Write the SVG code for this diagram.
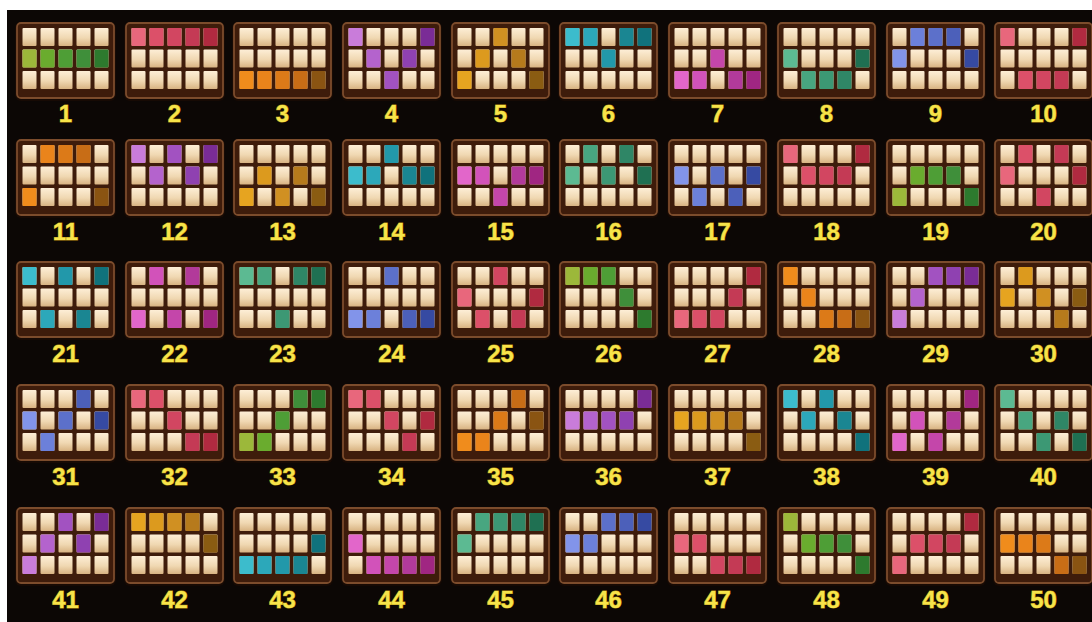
<svg xmlns="http://www.w3.org/2000/svg" width="1092" height="622" viewBox="0 0 1092 622">
<style>
.pb{fill:#3e1c0b;stroke:#7c4c2c;stroke-width:1.8}
.cr{fill:url(#cream)}
.lb{font-family:"Liberation Sans",Arial,sans-serif;font-weight:bold;font-size:24px;fill:#f7e44a;text-anchor:middle;stroke:#b08a12;stroke-width:1;paint-order:stroke}
.gr0{fill:#9cb83a}.gr1{fill:#6aac2e}.gr2{fill:#4e9e36}.gr3{fill:#3f8f3a}.gr4{fill:#2d7a2e}
.r0{fill:#e8677c}.r1{fill:#dc5069}.r2{fill:#d24661}.r3{fill:#c43a55}.r4{fill:#b02a40}
.o0{fill:#f08c1c}.o1{fill:#ea841b}.o2{fill:#dc7a18}.o3{fill:#c86d16}.o4{fill:#8a5412}
.p0{fill:#c97cda}.p1{fill:#b463cd}.p2{fill:#a252c1}.p3{fill:#8f41b1}.p4{fill:#7a2c96}
.a0{fill:#e6a420}.a1{fill:#dc9a1e}.a2{fill:#d09022}.a3{fill:#b67a1c}.a4{fill:#8a5c12}
.t0{fill:#3cbccc}.t1{fill:#2ca8ba}.t2{fill:#2298aa}.t3{fill:#1a8692}.t4{fill:#10727c}
.m0{fill:#e266ca}.m1{fill:#d252ba}.m2{fill:#c446aa}.m3{fill:#b23a9a}.m4{fill:#a02682}
.s0{fill:#5cba92}.s1{fill:#48a680}.s2{fill:#3c9874}.s3{fill:#2f8666}.s4{fill:#1f7052}
.b0{fill:#8294ea}.b1{fill:#6c80da}.b2{fill:#5c70ca}.b3{fill:#4c60ba}.b4{fill:#364aa2}
</style>
<defs>
<linearGradient id="cream" x1="0" y1="0" x2="0" y2="1">
<stop offset="0" stop-color="#fdeed6"/>
<stop offset="0.55" stop-color="#f0d8b2"/>
<stop offset="1" stop-color="#d8b382"/>
</linearGradient>
<rect id="k" width="14" height="18" rx="1"/>
<g id="pnl">
<rect x="-2" y="-1" width="101" height="79" rx="6" fill="#1c0b04" opacity="0.7"/>
<rect x="0" y="0" width="97" height="75" rx="4" class="pb"/>
<use href="#k" class="cr" x="5.5" y="5"/><use href="#k" class="cr" x="23.5" y="5"/><use href="#k" class="cr" x="41.5" y="5"/><use href="#k" class="cr" x="59.5" y="5"/><use href="#k" class="cr" x="77.5" y="5"/>
<use href="#k" class="cr" x="5.5" y="26.5"/><use href="#k" class="cr" x="23.5" y="26.5"/><use href="#k" class="cr" x="41.5" y="26.5"/><use href="#k" class="cr" x="59.5" y="26.5"/><use href="#k" class="cr" x="77.5" y="26.5"/>
<use href="#k" class="cr" x="5.5" y="48"/><use href="#k" class="cr" x="23.5" y="48"/><use href="#k" class="cr" x="41.5" y="48"/><use href="#k" class="cr" x="59.5" y="48"/><use href="#k" class="cr" x="77.5" y="48"/>
</g>
</defs>
<rect x="0" y="0" width="1092" height="622" fill="#ffffff"/>
<rect x="7" y="10" width="1085" height="612" fill="#0c0705"/>
<g id="connectors"/>

<g id="line-1" transform="translate(17,23)"><use href="#pnl"/><use href="#k" class="gr0" x="5.5" y="26.5"/><use href="#k" class="gr1" x="23.5" y="26.5"/><use href="#k" class="gr2" x="41.5" y="26.5"/><use href="#k" class="gr3" x="59.5" y="26.5"/><use href="#k" class="gr4" x="77.5" y="26.5"/><text class="lb" x="48.5" y="99">1</text></g>
<g id="line-2" transform="translate(126,23)"><use href="#pnl"/><use href="#k" class="r0" x="5.5" y="5"/><use href="#k" class="r1" x="23.5" y="5"/><use href="#k" class="r2" x="41.5" y="5"/><use href="#k" class="r3" x="59.5" y="5"/><use href="#k" class="r4" x="77.5" y="5"/><text class="lb" x="48.5" y="99">2</text></g>
<g id="line-3" transform="translate(234,23)"><use href="#pnl"/><use href="#k" class="o0" x="5.5" y="48"/><use href="#k" class="o1" x="23.5" y="48"/><use href="#k" class="o2" x="41.5" y="48"/><use href="#k" class="o3" x="59.5" y="48"/><use href="#k" class="o4" x="77.5" y="48"/><text class="lb" x="48.5" y="99">3</text></g>
<g id="line-4" transform="translate(343,23)"><use href="#pnl"/><use href="#k" class="p0" x="5.5" y="5"/><use href="#k" class="p1" x="23.5" y="26.5"/><use href="#k" class="p2" x="41.5" y="48"/><use href="#k" class="p3" x="59.5" y="26.5"/><use href="#k" class="p4" x="77.5" y="5"/><text class="lb" x="48.5" y="99">4</text></g>
<g id="line-5" transform="translate(452,23)"><use href="#pnl"/><use href="#k" class="a0" x="5.5" y="48"/><use href="#k" class="a1" x="23.5" y="26.5"/><use href="#k" class="a2" x="41.5" y="5"/><use href="#k" class="a3" x="59.5" y="26.5"/><use href="#k" class="a4" x="77.5" y="48"/><text class="lb" x="48.5" y="99">5</text></g>
<g id="line-6" transform="translate(560,23)"><use href="#pnl"/><use href="#k" class="t0" x="5.5" y="5"/><use href="#k" class="t1" x="23.5" y="5"/><use href="#k" class="t2" x="41.5" y="26.5"/><use href="#k" class="t3" x="59.5" y="5"/><use href="#k" class="t4" x="77.5" y="5"/><text class="lb" x="48.5" y="99">6</text></g>
<g id="line-7" transform="translate(669,23)"><use href="#pnl"/><use href="#k" class="m0" x="5.5" y="48"/><use href="#k" class="m1" x="23.5" y="48"/><use href="#k" class="m2" x="41.5" y="26.5"/><use href="#k" class="m3" x="59.5" y="48"/><use href="#k" class="m4" x="77.5" y="48"/><text class="lb" x="48.5" y="99">7</text></g>
<g id="line-8" transform="translate(778,23)"><use href="#pnl"/><use href="#k" class="s0" x="5.5" y="26.5"/><use href="#k" class="s1" x="23.5" y="48"/><use href="#k" class="s2" x="41.5" y="48"/><use href="#k" class="s3" x="59.5" y="48"/><use href="#k" class="s4" x="77.5" y="26.5"/><text class="lb" x="48.5" y="99">8</text></g>
<g id="line-9" transform="translate(887,23)"><use href="#pnl"/><use href="#k" class="b0" x="5.5" y="26.5"/><use href="#k" class="b1" x="23.5" y="5"/><use href="#k" class="b2" x="41.5" y="5"/><use href="#k" class="b3" x="59.5" y="5"/><use href="#k" class="b4" x="77.5" y="26.5"/><text class="lb" x="48.5" y="99">9</text></g>
<g id="line-10" transform="translate(995,23)"><use href="#pnl"/><use href="#k" class="r0" x="5.5" y="5"/><use href="#k" class="r1" x="23.5" y="48"/><use href="#k" class="r2" x="41.5" y="48"/><use href="#k" class="r3" x="59.5" y="48"/><use href="#k" class="r4" x="77.5" y="5"/><text class="lb" x="48.5" y="99">10</text></g>

<g id="line-11" transform="translate(17,140)"><use href="#pnl"/><use href="#k" class="o0" x="5.5" y="48"/><use href="#k" class="o1" x="23.5" y="5"/><use href="#k" class="o2" x="41.5" y="5"/><use href="#k" class="o3" x="59.5" y="5"/><use href="#k" class="o4" x="77.5" y="48"/><text class="lb" x="48.5" y="100">11</text></g>
<g id="line-12" transform="translate(126,140)"><use href="#pnl"/><use href="#k" class="p0" x="5.5" y="5"/><use href="#k" class="p1" x="23.5" y="26.5"/><use href="#k" class="p2" x="41.5" y="5"/><use href="#k" class="p3" x="59.5" y="26.5"/><use href="#k" class="p4" x="77.5" y="5"/><text class="lb" x="48.5" y="100">12</text></g>
<g id="line-13" transform="translate(234,140)"><use href="#pnl"/><use href="#k" class="a0" x="5.5" y="48"/><use href="#k" class="a1" x="23.5" y="26.5"/><use href="#k" class="a2" x="41.5" y="48"/><use href="#k" class="a3" x="59.5" y="26.5"/><use href="#k" class="a4" x="77.5" y="48"/><text class="lb" x="48.5" y="100">13</text></g>
<g id="line-14" transform="translate(343,140)"><use href="#pnl"/><use href="#k" class="t0" x="5.5" y="26.5"/><use href="#k" class="t1" x="23.5" y="26.5"/><use href="#k" class="t2" x="41.5" y="5"/><use href="#k" class="t3" x="59.5" y="26.5"/><use href="#k" class="t4" x="77.5" y="26.5"/><text class="lb" x="48.5" y="100">14</text></g>
<g id="line-15" transform="translate(452,140)"><use href="#pnl"/><use href="#k" class="m0" x="5.5" y="26.5"/><use href="#k" class="m1" x="23.5" y="26.5"/><use href="#k" class="m2" x="41.5" y="48"/><use href="#k" class="m3" x="59.5" y="26.5"/><use href="#k" class="m4" x="77.5" y="26.5"/><text class="lb" x="48.5" y="100">15</text></g>
<g id="line-16" transform="translate(560,140)"><use href="#pnl"/><use href="#k" class="s0" x="5.5" y="26.5"/><use href="#k" class="s1" x="23.5" y="5"/><use href="#k" class="s2" x="41.5" y="26.5"/><use href="#k" class="s3" x="59.5" y="5"/><use href="#k" class="s4" x="77.5" y="26.5"/><text class="lb" x="48.5" y="100">16</text></g>
<g id="line-17" transform="translate(669,140)"><use href="#pnl"/><use href="#k" class="b0" x="5.5" y="26.5"/><use href="#k" class="b1" x="23.5" y="48"/><use href="#k" class="b2" x="41.5" y="26.5"/><use href="#k" class="b3" x="59.5" y="48"/><use href="#k" class="b4" x="77.5" y="26.5"/><text class="lb" x="48.5" y="100">17</text></g>
<g id="line-18" transform="translate(778,140)"><use href="#pnl"/><use href="#k" class="r0" x="5.5" y="5"/><use href="#k" class="r1" x="23.5" y="26.5"/><use href="#k" class="r2" x="41.5" y="26.5"/><use href="#k" class="r3" x="59.5" y="26.5"/><use href="#k" class="r4" x="77.5" y="5"/><text class="lb" x="48.5" y="100">18</text></g>
<g id="line-19" transform="translate(887,140)"><use href="#pnl"/><use href="#k" class="gr0" x="5.5" y="48"/><use href="#k" class="gr1" x="23.5" y="26.5"/><use href="#k" class="gr2" x="41.5" y="26.5"/><use href="#k" class="gr3" x="59.5" y="26.5"/><use href="#k" class="gr4" x="77.5" y="48"/><text class="lb" x="48.5" y="100">19</text></g>
<g id="line-20" transform="translate(995,140)"><use href="#pnl"/><use href="#k" class="r0" x="5.5" y="26.5"/><use href="#k" class="r1" x="23.5" y="5"/><use href="#k" class="r2" x="41.5" y="48"/><use href="#k" class="r3" x="59.5" y="5"/><use href="#k" class="r4" x="77.5" y="26.5"/><text class="lb" x="48.5" y="100">20</text></g>

<g id="line-21" transform="translate(17,262)"><use href="#pnl"/><use href="#k" class="t0" x="5.5" y="5"/><use href="#k" class="t1" x="23.5" y="48"/><use href="#k" class="t2" x="41.5" y="5"/><use href="#k" class="t3" x="59.5" y="48"/><use href="#k" class="t4" x="77.5" y="5"/><text class="lb" x="48.5" y="100">21</text></g>
<g id="line-22" transform="translate(126,262)"><use href="#pnl"/><use href="#k" class="m0" x="5.5" y="48"/><use href="#k" class="m1" x="23.5" y="5"/><use href="#k" class="m2" x="41.5" y="48"/><use href="#k" class="m3" x="59.5" y="5"/><use href="#k" class="m4" x="77.5" y="48"/><text class="lb" x="48.5" y="100">22</text></g>
<g id="line-23" transform="translate(234,262)"><use href="#pnl"/><use href="#k" class="s0" x="5.5" y="5"/><use href="#k" class="s1" x="23.5" y="5"/><use href="#k" class="s2" x="41.5" y="48"/><use href="#k" class="s3" x="59.5" y="5"/><use href="#k" class="s4" x="77.5" y="5"/><text class="lb" x="48.5" y="100">23</text></g>
<g id="line-24" transform="translate(343,262)"><use href="#pnl"/><use href="#k" class="b0" x="5.5" y="48"/><use href="#k" class="b1" x="23.5" y="48"/><use href="#k" class="b2" x="41.5" y="5"/><use href="#k" class="b3" x="59.5" y="48"/><use href="#k" class="b4" x="77.5" y="48"/><text class="lb" x="48.5" y="100">24</text></g>
<g id="line-25" transform="translate(452,262)"><use href="#pnl"/><use href="#k" class="r0" x="5.5" y="26.5"/><use href="#k" class="r1" x="23.5" y="48"/><use href="#k" class="r2" x="41.5" y="5"/><use href="#k" class="r3" x="59.5" y="48"/><use href="#k" class="r4" x="77.5" y="26.5"/><text class="lb" x="48.5" y="100">25</text></g>
<g id="line-26" transform="translate(560,262)"><use href="#pnl"/><use href="#k" class="gr0" x="5.5" y="5"/><use href="#k" class="gr1" x="23.5" y="5"/><use href="#k" class="gr2" x="41.5" y="5"/><use href="#k" class="gr3" x="59.5" y="26.5"/><use href="#k" class="gr4" x="77.5" y="48"/><text class="lb" x="48.5" y="100">26</text></g>
<g id="line-27" transform="translate(669,262)"><use href="#pnl"/><use href="#k" class="r0" x="5.5" y="48"/><use href="#k" class="r1" x="23.5" y="48"/><use href="#k" class="r2" x="41.5" y="48"/><use href="#k" class="r3" x="59.5" y="26.5"/><use href="#k" class="r4" x="77.5" y="5"/><text class="lb" x="48.5" y="100">27</text></g>
<g id="line-28" transform="translate(778,262)"><use href="#pnl"/><use href="#k" class="o0" x="5.5" y="5"/><use href="#k" class="o1" x="23.5" y="26.5"/><use href="#k" class="o2" x="41.5" y="48"/><use href="#k" class="o3" x="59.5" y="48"/><use href="#k" class="o4" x="77.5" y="48"/><text class="lb" x="48.5" y="100">28</text></g>
<g id="line-29" transform="translate(887,262)"><use href="#pnl"/><use href="#k" class="p0" x="5.5" y="48"/><use href="#k" class="p1" x="23.5" y="26.5"/><use href="#k" class="p2" x="41.5" y="5"/><use href="#k" class="p3" x="59.5" y="5"/><use href="#k" class="p4" x="77.5" y="5"/><text class="lb" x="48.5" y="100">29</text></g>
<g id="line-30" transform="translate(995,262)"><use href="#pnl"/><use href="#k" class="a0" x="5.5" y="26.5"/><use href="#k" class="a1" x="23.5" y="5"/><use href="#k" class="a2" x="41.5" y="26.5"/><use href="#k" class="a3" x="59.5" y="48"/><use href="#k" class="a4" x="77.5" y="26.5"/><text class="lb" x="48.5" y="100">30</text></g>

<g id="line-31" transform="translate(17,385)"><use href="#pnl"/><use href="#k" class="b0" x="5.5" y="26.5"/><use href="#k" class="b1" x="23.5" y="48"/><use href="#k" class="b2" x="41.5" y="26.5"/><use href="#k" class="b3" x="59.5" y="5"/><use href="#k" class="b4" x="77.5" y="26.5"/><text class="lb" x="48.5" y="100">31</text></g>
<g id="line-32" transform="translate(126,385)"><use href="#pnl"/><use href="#k" class="r0" x="5.5" y="5"/><use href="#k" class="r1" x="23.5" y="5"/><use href="#k" class="r2" x="41.5" y="26.5"/><use href="#k" class="r3" x="59.5" y="48"/><use href="#k" class="r4" x="77.5" y="48"/><text class="lb" x="48.5" y="100">32</text></g>
<g id="line-33" transform="translate(234,385)"><use href="#pnl"/><use href="#k" class="gr0" x="5.5" y="48"/><use href="#k" class="gr1" x="23.5" y="48"/><use href="#k" class="gr2" x="41.5" y="26.5"/><use href="#k" class="gr3" x="59.5" y="5"/><use href="#k" class="gr4" x="77.5" y="5"/><text class="lb" x="48.5" y="100">33</text></g>
<g id="line-34" transform="translate(343,385)"><use href="#pnl"/><use href="#k" class="r0" x="5.5" y="5"/><use href="#k" class="r1" x="23.5" y="5"/><use href="#k" class="r2" x="41.5" y="26.5"/><use href="#k" class="r3" x="59.5" y="48"/><use href="#k" class="r4" x="77.5" y="26.5"/><text class="lb" x="48.5" y="100">34</text></g>
<g id="line-35" transform="translate(452,385)"><use href="#pnl"/><use href="#k" class="o0" x="5.5" y="48"/><use href="#k" class="o1" x="23.5" y="48"/><use href="#k" class="o2" x="41.5" y="26.5"/><use href="#k" class="o3" x="59.5" y="5"/><use href="#k" class="o4" x="77.5" y="26.5"/><text class="lb" x="48.5" y="100">35</text></g>
<g id="line-36" transform="translate(560,385)"><use href="#pnl"/><use href="#k" class="p0" x="5.5" y="26.5"/><use href="#k" class="p1" x="23.5" y="26.5"/><use href="#k" class="p2" x="41.5" y="26.5"/><use href="#k" class="p3" x="59.5" y="26.5"/><use href="#k" class="p4" x="77.5" y="5"/><text class="lb" x="48.5" y="100">36</text></g>
<g id="line-37" transform="translate(669,385)"><use href="#pnl"/><use href="#k" class="a0" x="5.5" y="26.5"/><use href="#k" class="a1" x="23.5" y="26.5"/><use href="#k" class="a2" x="41.5" y="26.5"/><use href="#k" class="a3" x="59.5" y="26.5"/><use href="#k" class="a4" x="77.5" y="48"/><text class="lb" x="48.5" y="100">37</text></g>
<g id="line-38" transform="translate(778,385)"><use href="#pnl"/><use href="#k" class="t0" x="5.5" y="5"/><use href="#k" class="t1" x="23.5" y="26.5"/><use href="#k" class="t2" x="41.5" y="5"/><use href="#k" class="t3" x="59.5" y="26.5"/><use href="#k" class="t4" x="77.5" y="48"/><text class="lb" x="48.5" y="100">38</text></g>
<g id="line-39" transform="translate(887,385)"><use href="#pnl"/><use href="#k" class="m0" x="5.5" y="48"/><use href="#k" class="m1" x="23.5" y="26.5"/><use href="#k" class="m2" x="41.5" y="48"/><use href="#k" class="m3" x="59.5" y="26.5"/><use href="#k" class="m4" x="77.5" y="5"/><text class="lb" x="48.5" y="100">39</text></g>
<g id="line-40" transform="translate(995,385)"><use href="#pnl"/><use href="#k" class="s0" x="5.5" y="5"/><use href="#k" class="s1" x="23.5" y="26.5"/><use href="#k" class="s2" x="41.5" y="48"/><use href="#k" class="s3" x="59.5" y="26.5"/><use href="#k" class="s4" x="77.5" y="48"/><text class="lb" x="48.5" y="100">40</text></g>

<g id="line-41" transform="translate(17,508)"><use href="#pnl"/><use href="#k" class="p0" x="5.5" y="48"/><use href="#k" class="p1" x="23.5" y="26.5"/><use href="#k" class="p2" x="41.5" y="5"/><use href="#k" class="p3" x="59.5" y="26.5"/><use href="#k" class="p4" x="77.5" y="5"/><text class="lb" x="48.5" y="100">41</text></g>
<g id="line-42" transform="translate(126,508)"><use href="#pnl"/><use href="#k" class="a0" x="5.5" y="5"/><use href="#k" class="a1" x="23.5" y="5"/><use href="#k" class="a2" x="41.5" y="5"/><use href="#k" class="a3" x="59.5" y="5"/><use href="#k" class="a4" x="77.5" y="26.5"/><text class="lb" x="48.5" y="100">42</text></g>
<g id="line-43" transform="translate(234,508)"><use href="#pnl"/><use href="#k" class="t0" x="5.5" y="48"/><use href="#k" class="t1" x="23.5" y="48"/><use href="#k" class="t2" x="41.5" y="48"/><use href="#k" class="t3" x="59.5" y="48"/><use href="#k" class="t4" x="77.5" y="26.5"/><text class="lb" x="48.5" y="100">43</text></g>
<g id="line-44" transform="translate(343,508)"><use href="#pnl"/><use href="#k" class="m0" x="5.5" y="26.5"/><use href="#k" class="m1" x="23.5" y="48"/><use href="#k" class="m2" x="41.5" y="48"/><use href="#k" class="m3" x="59.5" y="48"/><use href="#k" class="m4" x="77.5" y="48"/><text class="lb" x="48.5" y="100">44</text></g>
<g id="line-45" transform="translate(452,508)"><use href="#pnl"/><use href="#k" class="s0" x="5.5" y="26.5"/><use href="#k" class="s1" x="23.5" y="5"/><use href="#k" class="s2" x="41.5" y="5"/><use href="#k" class="s3" x="59.5" y="5"/><use href="#k" class="s4" x="77.5" y="5"/><text class="lb" x="48.5" y="100">45</text></g>
<g id="line-46" transform="translate(560,508)"><use href="#pnl"/><use href="#k" class="b0" x="5.5" y="26.5"/><use href="#k" class="b1" x="23.5" y="26.5"/><use href="#k" class="b2" x="41.5" y="5"/><use href="#k" class="b3" x="59.5" y="5"/><use href="#k" class="b4" x="77.5" y="5"/><text class="lb" x="48.5" y="100">46</text></g>
<g id="line-47" transform="translate(669,508)"><use href="#pnl"/><use href="#k" class="r0" x="5.5" y="26.5"/><use href="#k" class="r1" x="23.5" y="26.5"/><use href="#k" class="r2" x="41.5" y="48"/><use href="#k" class="r3" x="59.5" y="48"/><use href="#k" class="r4" x="77.5" y="48"/><text class="lb" x="48.5" y="100">47</text></g>
<g id="line-48" transform="translate(778,508)"><use href="#pnl"/><use href="#k" class="gr0" x="5.5" y="5"/><use href="#k" class="gr1" x="23.5" y="26.5"/><use href="#k" class="gr2" x="41.5" y="26.5"/><use href="#k" class="gr3" x="59.5" y="26.5"/><use href="#k" class="gr4" x="77.5" y="48"/><text class="lb" x="48.5" y="100">48</text></g>
<g id="line-49" transform="translate(887,508)"><use href="#pnl"/><use href="#k" class="r0" x="5.5" y="48"/><use href="#k" class="r1" x="23.5" y="26.5"/><use href="#k" class="r2" x="41.5" y="26.5"/><use href="#k" class="r3" x="59.5" y="26.5"/><use href="#k" class="r4" x="77.5" y="5"/><text class="lb" x="48.5" y="100">49</text></g>
<g id="line-50" transform="translate(995,508)"><use href="#pnl"/><use href="#k" class="o0" x="5.5" y="26.5"/><use href="#k" class="o1" x="23.5" y="26.5"/><use href="#k" class="o2" x="41.5" y="26.5"/><use href="#k" class="o3" x="59.5" y="48"/><use href="#k" class="o4" x="77.5" y="48"/><text class="lb" x="48.5" y="100">50</text></g>
</svg>
